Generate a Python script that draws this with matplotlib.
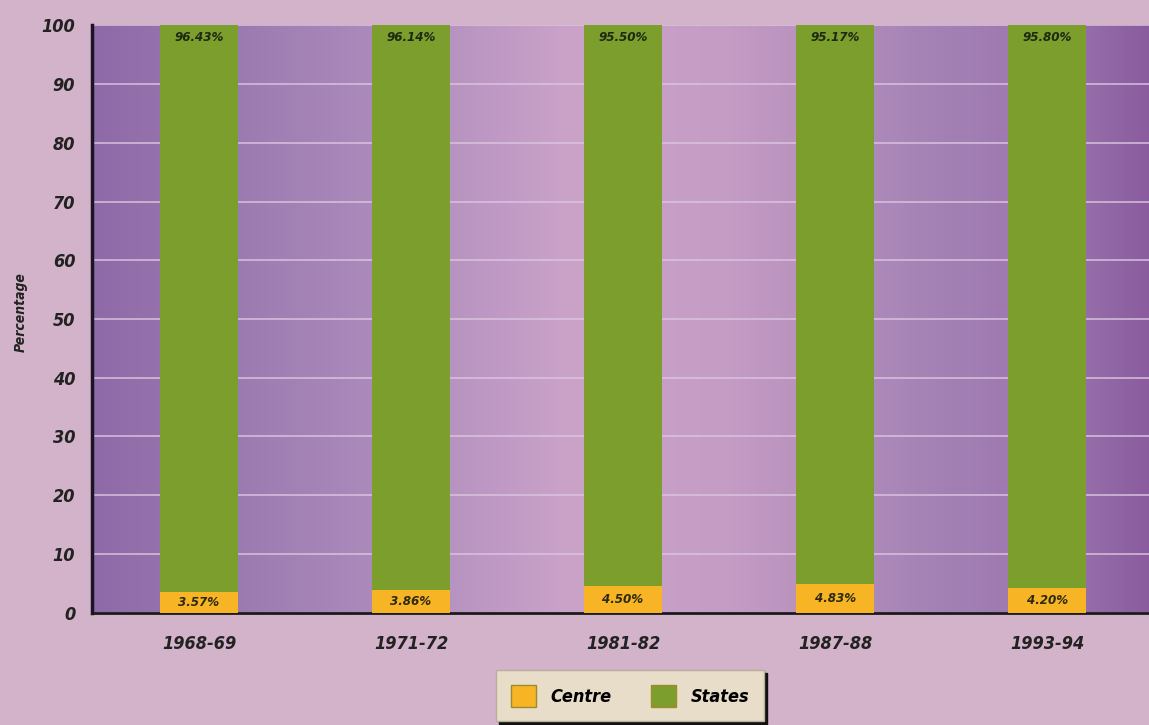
import matplotlib.pyplot as plt
import numpy as np
from matplotlib.colors import LinearSegmentedColormap

# dados
years = ['1968-69', '1971-72', '1981-82', '1987-88', '1993-94']
centre = [3.57, 3.86, 4.50, 4.83, 4.20]
states = [96.43, 96.14, 95.50, 95.17, 95.80]

FONT = {'family': 'DejaVu Sans', 'stretch': 'condensed',
        'weight': 'bold', 'style': 'italic'}

fig = plt.figure(figsize=(11.49, 7.25), dpi=100)
fig.patch.set_facecolor('#d3b3c9')
ax = fig.add_axes([0.080, 0.155, 0.920, 0.81])

# fundo roxo/rosa da foto
bg = LinearSegmentedColormap.from_list('bg', [
    (0.00, '#8f6aa8'), (0.15, '#9d7cb2'), (0.30, '#b08ebe'),
    (0.45, '#cba3c9'), (0.60, '#c59cc4'), (0.78, '#a684b6'),
    (0.92, '#9a74ae'), (1.00, '#8a5c9e')])
ax.imshow(np.linspace(0, 1, 256).reshape(1, -1), cmap=bg, aspect='auto',
          extent=(0, 1, 0, 1), transform=ax.transAxes, zorder=0)

x = np.arange(len(years))
w = 0.37
ax.bar(x, centre, w, color='#f7b526', zorder=3, label='Centre')
ax.bar(x, states, w, bottom=centre, color='#7c9e2c', zorder=3, label='States')

for i in range(len(years)):
    ax.text(x[i], centre[i] / 2, f'{centre[i]:.2f}%', ha='center', va='center',
            fontsize=9.5, color='#2e2a10', zorder=4, **FONT)
    ax.text(x[i], 98, f'{states[i]:.2f}%', ha='center', va='center',
            fontsize=9.5, color='#1e2a10', zorder=4, **FONT)

ax.set_xlim(-0.505, 4.48)
ax.set_ylim(0, 100)
ax.set_yticks(range(0, 101, 10))
ax.set_xticks(x)
ax.set_xticklabels(years)
ax.yaxis.grid(True, color='#dcc6e0', linewidth=1.3, alpha=0.8, zorder=1)
ax.set_axisbelow(True)
ax.tick_params(length=0, pad=12, labelsize=13, labelcolor='#222222')
for lab in ax.get_xticklabels() + ax.get_yticklabels():
    lab.set(**FONT)
ax.tick_params(axis='x', pad=16)

for s in ['top', 'right']:
    ax.spines[s].set_visible(False)
ax.spines['left'].set_color('#1a1426')
ax.spines['left'].set_linewidth(2.5)
ax.spines['bottom'].set_color('#1a1a1a')
ax.spines['bottom'].set_linewidth(2)

fig.text(0.018, 0.57, 'Percentage', rotation=90, ha='center', va='center',
         fontsize=10, color='#222222', **FONT)

leg = fig.legend(loc='upper left', bbox_to_anchor=(0.424, 0.088), ncol=2,
                 prop={**FONT, 'size': 13},
                 frameon=True, fancybox=False, shadow={'color': '#111111', 'alpha': 1},
                 facecolor='#e7ddc8', edgecolor='#b8ae9c', framealpha=1,
                 handlelength=1.4, handleheight=1.5, columnspacing=2.2,
                 borderpad=0.8)
for h in leg.legend_handles:
    h.set_edgecolor('#a08a30')

fig.savefig('out.png', dpi=100, facecolor=fig.get_facecolor())
